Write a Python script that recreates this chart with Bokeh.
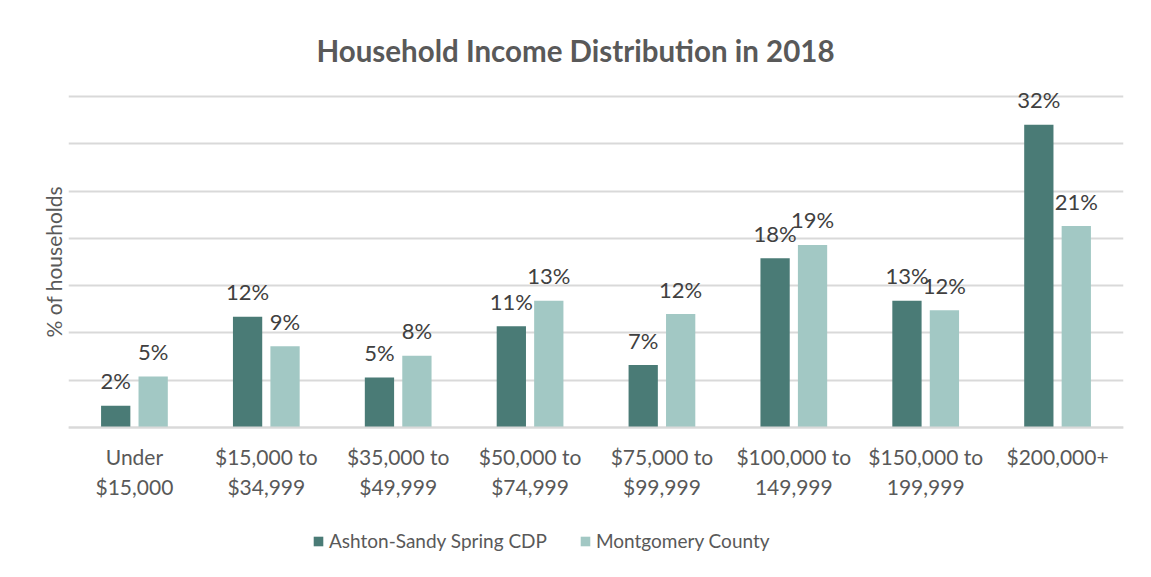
from bokeh.plotting import figure
from bokeh.models import ColumnDataSource, FactorRange, Range1d, FixedTicker, Legend, LegendItem, Title
from bokeh.transform import dodge
from bokeh.core.properties import value
from bokeh.embed import file_html
from bokeh.resources import INLINE

categories = ["Under\n$15,000", "$15,000 to\n$34,999", "$35,000 to\n$49,999", "$50,000 to\n$74,999",
              "$75,000 to\n$99,999", "$100,000 to\n149,999", "$150,000 to\n199,999", "$200,000+"]
ashton = [2.3, 11.7, 5.3, 10.7, 6.6, 17.9, 13.4, 32.0]
montgomery = [5.4, 8.6, 7.6, 13.4, 12.0, 19.3, 12.4, 21.3]
series_names = ["Ashton-Sandy Spring CDP", "Montgomery County"]
grid_ticks = [0, 5, 10, 15, 20, 25, 30, 35]

DARK = "#4A7B76"
LIGHT = "#A2C8C4"
FONT = "Lato"

src = ColumnDataSource(dict(
    cat=categories,
    a=ashton,
    m=montgomery,
    a_lbl=[f"{round(v)}%" for v in ashton],
    m_lbl=[f"{round(v)}%" for v in montgomery],
))

PX = 331 / 35.0  # pixels per percent point
TOP_PAD = 8      # px above top gridline
BOT_PAD = 150    # px below baseline (axis labels + legend)

p = figure(x_range=FactorRange(*categories),
           y_range=Range1d(-BOT_PAD / PX, 35 + TOP_PAD / PX),
           frame_width=1055, frame_height=331 + TOP_PAD + BOT_PAD,
           output_backend="svg", toolbar_location=None,
           min_border_left=68, min_border_right=20, min_border_top=96 - TOP_PAD, min_border_bottom=0)

p.title.text = "Household Income Distribution in 2018"
p.title.align = "left"
p.title.text_font = FONT
p.title.text_font_size = "29.5px"
p.title.text_font_style = "bold"
p.title.text_color = "#595959"
p.title.standoff = 41
p.title.offset = 248

w = 0.222
off = 0.142
r1 = p.vbar(x=dodge("cat", -off, range=p.x_range), top="a", width=w, source=src,
            fill_color=DARK, line_color=None)
r2 = p.vbar(x=dodge("cat", off, range=p.x_range), top="m", width=w, source=src,
            fill_color=LIGHT, line_color=None)

for col, lbl, o in (("a", "a_lbl", -off), ("m", "m_lbl", off)):
    p.text(x=dodge("cat", o, range=p.x_range), y=col, text=lbl, source=src,
           text_align="center", text_baseline="alphabetic", y_offset=-25,
           text_font=value(FONT), text_font_size="22px", text_color="#404040")

p.yaxis.ticker = FixedTicker(ticks=grid_ticks)
p.ygrid.ticker = FixedTicker(ticks=grid_ticks)
p.yaxis.visible = False

ylab = Title(text="% of households", align="left", offset=240, standoff=6,
             text_font=FONT, text_font_size="21px", text_font_style="normal",
             text_color="#595959")
p.add_layout(ylab, "left")

p.xaxis.fixed_location = 0
p.xaxis.axis_line_color = "#D9D9D9"
p.xaxis.axis_line_width = 2
p.xaxis.major_tick_line_color = None
p.xaxis.minor_tick_line_color = None
p.xaxis.major_label_text_font = FONT
p.xaxis.major_label_text_font_size = "21px"
p.xaxis.major_label_text_color = "#595959"
p.xaxis.major_label_standoff = 10

p.xgrid.grid_line_color = None
p.ygrid.grid_line_color = "#D9D9D9"
p.ygrid.grid_line_width = 2
p.outline_line_color = None

legend = Legend(items=[LegendItem(label=series_names[0], renderers=[r1]),
                       LegendItem(label=series_names[1], renderers=[r2])],
                orientation="horizontal", location=(244, 25),
                label_text_font=FONT, label_text_font_size="19px", label_text_color="#595959",
                glyph_width=12, glyph_height=12, spacing=32, label_standoff=5,
                border_line_color=None, background_fill_color=None, margin=0, padding=0)
p.add_layout(legend, "center")

open("out.html", "w").write(file_html(p, INLINE))
